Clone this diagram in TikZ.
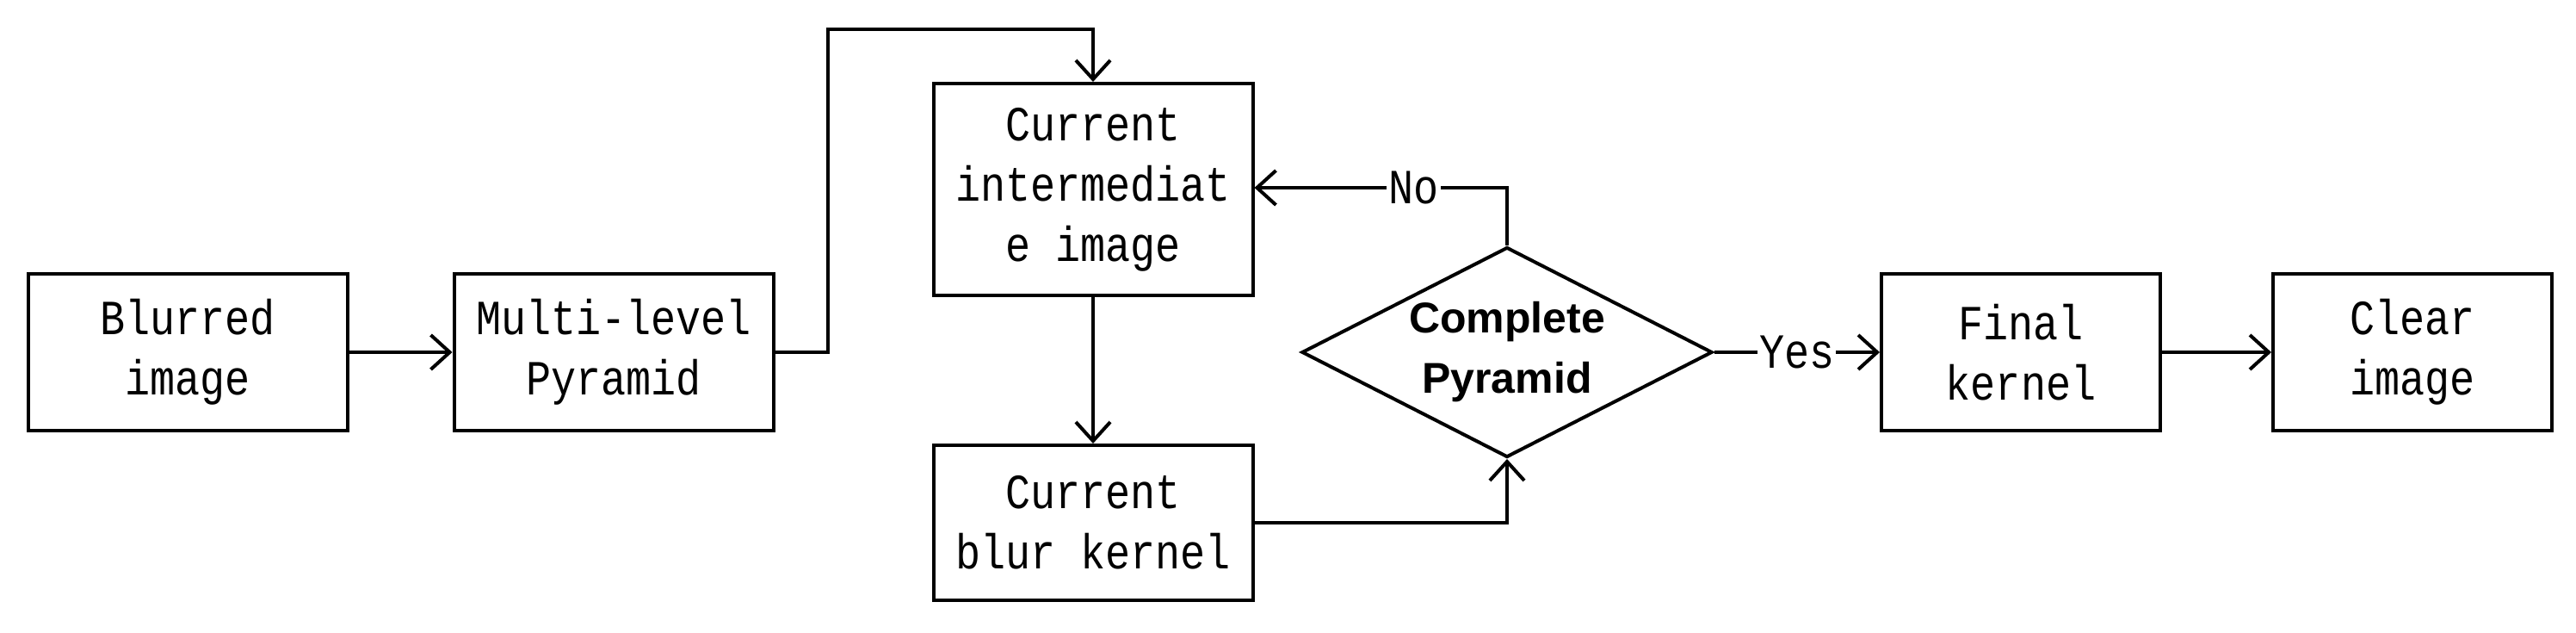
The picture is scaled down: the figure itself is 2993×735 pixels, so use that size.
\documentclass[tikz,border=0pt]{standalone}
\usepackage{fontspec}
\usetikzlibrary{arrows.meta,shapes.geometric}
\newfontfamily\boxfont[FakeStretch=0.85]{Liberation Mono}
\newfontfamily\dfont{Liberation Sans}
\begin{document}
\begin{tikzpicture}[x=1pt,y=-1pt,
  box/.style={draw,line width=4pt,minimum width=371pt,minimum height=181pt,inner sep=0pt,align=center,font=\boxfont\fontsize{57}{70}\selectfont},
  lbl/.style={fill=white,inner sep=2pt,font=\boxfont\fontsize{57}{70}\selectfont},
  arr/.style={line width=4pt,-{Straight Barb[length=22pt,width=40pt,line width=4pt]}},
  ln/.style={line width=4pt}]
\useasboundingbox (0,0) rectangle (2993,735);
\node[box] (blur) at (218,409) {Blurred\\image};
\node[box] (multi) at (713,409) {Multi-level\\Pyramid};
\node[box,minimum height=246pt] (inter) at (1270,220) {Current\\intermediat\\e image};
\node[box,minimum height=180pt] (kern) at (1270,607) {Current\\blur kernel};
\node[draw,line width=4pt,diamond,aspect=1.95,minimum width=477pt,minimum height=244pt,inner sep=0pt,align=center,font=\dfont\bfseries\fontsize{50}{70}\selectfont] (dia) at (1751,409) {Complete\\Pyramid};
\node[box,minimum width=324pt] (final) at (2348,409) {Final\\kernel};
\node[box,minimum width=324pt] (clear) at (2803,409) {Clear\\image};
\coordinate (a1) at (962,409);
\coordinate (a2) at (962,34);
\coordinate (a3) at (1270,34);
\coordinate (n1) at (1751,218);
\coordinate (k1) at (1751,607);
\draw[arr] (blur) -- (multi);
\draw[arr] (multi.east) -- (a1) -- (a2) -- (a3) -- (inter.north);
\draw[arr] (inter) -- (kern);
\draw[arr] (kern.east) -- (k1) -- (dia.south);
\draw[arr] (dia.north) -- (n1) -- (inter.east |- n1) node[lbl,pos=0.37] {No};
\draw[arr] (dia.east) -- (final.west) node[lbl,midway] {Yes};
\draw[arr] (final) -- (clear);
\end{tikzpicture}
\end{document}
